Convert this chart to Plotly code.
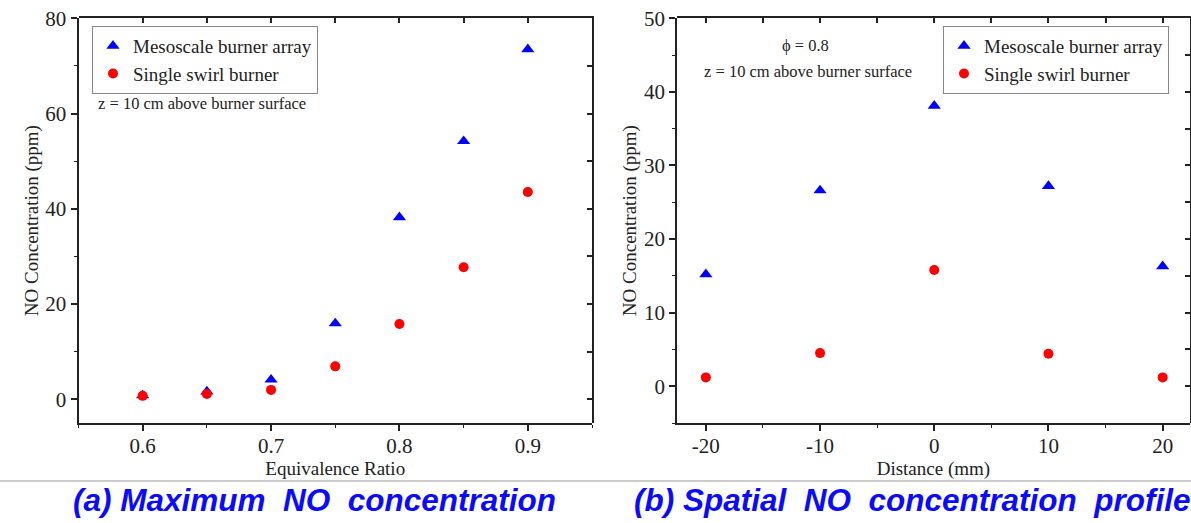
import plotly.graph_objects as go

# ---- data ----
phi = [0.6, 0.65, 0.7, 0.75, 0.8, 0.85, 0.9]
meso_phi = [0.8, 1.6, 4.1, 15.9, 38.2, 54.2, 73.5]
single_phi = [0.7, 1.1, 1.95, 6.9, 15.8, 27.7, 43.5]

dist = [-20, -10, 0, 10, 20]
meso_dist = [15.2, 26.6, 38.1, 27.2, 16.3]
single_dist = [1.2, 4.5, 15.8, 4.4, 1.2]

dist_ticks = [-20, -10, 0, 10, 20]
dist_ticktext = ["-20", "-10", "0", "10", "20"]

W, H = 1191, 523
def px(x):
    return x / W
def py(y):
    return 1 - y / H

SERIF = "Liberation Serif, Times New Roman, serif"
BLUE = "#0000ff"
RED = "#ff0000"
AX = "#222222"

fig = go.Figure()

tri = dict(symbol="triangle-up", size=11.5, color=BLUE)
cir = dict(symbol="circle", size=10, color=RED)

# transparent copies on the frame axes (top/right, inside ticks) so they get drawn
fig.add_trace(go.Scatter(x=phi, y=meso_phi, mode="markers", marker=dict(opacity=0),
                         xaxis="x3", yaxis="y3", showlegend=False, hoverinfo="skip"))
fig.add_trace(go.Scatter(x=dist, y=meso_dist, mode="markers", marker=dict(opacity=0),
                         xaxis="x4", yaxis="y4", showlegend=False, hoverinfo="skip"))

fig.add_trace(go.Scatter(x=phi, y=meso_phi, mode="markers", marker=tri,
                         name="Mesoscale burner array", xaxis="x", yaxis="y", legend="legend"))
fig.add_trace(go.Scatter(x=phi, y=single_phi, mode="markers", marker=cir,
                         name="Single swirl burner", xaxis="x", yaxis="y", legend="legend"))
fig.add_trace(go.Scatter(x=dist, y=meso_dist, mode="markers", marker=tri,
                         name="Mesoscale burner array", xaxis="x2", yaxis="y2", legend="legend2"))
fig.add_trace(go.Scatter(x=dist, y=single_dist, mode="markers", marker=cir,
                         name="Single swirl burner", xaxis="x2", yaxis="y2", legend="legend2"))

ydom = [py(423.0), py(18.3)]
xdom1 = [px(78.5), px(592.0)]
xdom2 = [px(677.3), px(1189.5)]

tickfont = dict(family=SERIF, size=21, color="#222")
titlefont = dict(family=SERIF, size=19, color="#222")

def main_axis(dom, rng, dtick, mdtick, title, anchor, **kw):
    d = dict(domain=dom, range=rng, dtick=dtick, tick0=0, showline=True, linecolor=AX,
             linewidth=2, ticks="outside", ticklen=6, tickwidth=1.6, tickcolor=AX,
             showgrid=False, zeroline=False, tickfont=tickfont,
             title=dict(text=title, font=titlefont, standoff=2), anchor=anchor,
             minor=dict(dtick=mdtick, ticks="outside", ticklen=3, tickwidth=1.4, tickcolor=AX),
             automargin=False)
    d.update(kw)
    return d

def frame_axis(dom, rng, dtick, side, anchor):
    return dict(domain=dom, range=rng, dtick=dtick, tick0=0, showline=True, linecolor=AX,
                linewidth=2, ticks="inside", ticklen=5, tickwidth=1.6, tickcolor=AX,
                showgrid=False, zeroline=False, showticklabels=False,
                side=side, anchor=anchor, automargin=False)

xr1 = [0.55, 0.95]
yr1 = [-5, 80]
xr2 = [-22.5, 22.35]
yr2 = [-5, 50]

fig.update_layout(
    width=W, height=H, margin=dict(l=0, r=0, t=0, b=0, autoexpand=False),
    paper_bgcolor="white", plot_bgcolor="rgba(0,0,0,0)",
    xaxis=main_axis(xdom1, xr1, 0.1, 0.05, "Equivalence Ratio", "y", ticklabelstandoff=-3),
    yaxis=main_axis(ydom, yr1, 20, 10, "NO Concentration (ppm)", "x"),
    xaxis2=main_axis(xdom2, xr2, None, 5, "Distance (mm)", "y2", tickmode="array",
                     tickvals=dist_ticks, ticktext=dist_ticktext, ticklabelstandoff=-3),
    yaxis2=main_axis(ydom, yr2, 10, 5, "NO Concentration (ppm)", "x2"),
    xaxis3=frame_axis(xdom1, xr1, 0.05, "top", "y3"),
    yaxis3=frame_axis(ydom, yr1, 10, "right", "x3"),
    xaxis4=frame_axis(xdom2, xr2, 5, "top", "y4"),
    yaxis4=frame_axis(ydom, yr2, 5, "right", "x4"),
    legend=dict(x=px(92), y=py(26), xanchor="left", yanchor="top",
                bordercolor="#888", borderwidth=1, bgcolor="white",
                font=dict(family=SERIF, size=19, color="#222"), tracegroupgap=0),
    legend2=dict(x=px(943), y=py(26), xanchor="left", yanchor="top",
                 bordercolor="#888", borderwidth=1, bgcolor="white",
                 font=dict(family=SERIF, size=19, color="#222"), tracegroupgap=0),
    showlegend=True,
)

ann_font = dict(family=SERIF, size=16.5, color="#222")
fig.add_annotation(text="z = 10 cm above burner surface", x=px(96), y=py(103),
                   xref="paper", yref="paper", xanchor="left", yanchor="middle",
                   showarrow=False, font=ann_font)
fig.add_annotation(text="ϕ = 0.8", x=px(805), y=py(45), xref="paper", yref="paper",
                   xanchor="center", yanchor="middle", showarrow=False, font=ann_font)
fig.add_annotation(text="z = 10 cm above burner surface", x=px(808), y=py(71),
                   xref="paper", yref="paper", xanchor="center", yanchor="middle",
                   showarrow=False, font=ann_font)

cap_font = dict(family="Liberation Sans, Arial, sans-serif", size=31.5, color="#0a0aff",
                weight="bold", style="italic")
fig.add_annotation(text="(a) Maximum&nbsp; NO&nbsp; concentration", x=px(314), y=py(500),
                   xref="paper", yref="paper", xanchor="center", yanchor="middle",
                   showarrow=False, font=cap_font)
fig.add_annotation(text="(b) Spatial&nbsp; NO&nbsp; concentration&nbsp; profile", x=px(912), y=py(500),
                   xref="paper", yref="paper", xanchor="center", yanchor="middle",
                   showarrow=False, font=cap_font)

fig.add_shape(type="line", xref="paper", yref="paper", x0=0, x1=1, y0=py(481), y1=py(481),
              line=dict(color="#bbbbbb", width=1.5))

fig.write_html("out.html")
